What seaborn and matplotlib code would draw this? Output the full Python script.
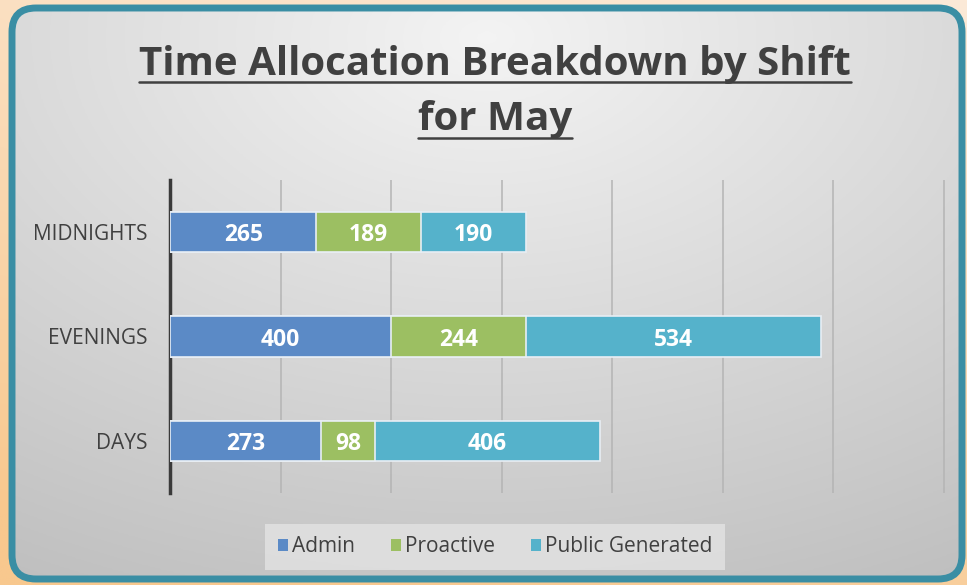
import numpy as np
import pandas as pd
import matplotlib.pyplot as plt
import seaborn as sns
from matplotlib.patches import FancyBboxPatch
from matplotlib.lines import Line2D

# data
shifts = ['MIDNIGHTS', 'EVENINGS', 'DAYS']
admin = [265, 400, 273]
proactive = [189, 244, 98]
public_generated = [190, 534, 406]
series = ['Admin', 'Proactive', 'Public Generated']
colors = ['#5b8ac6', '#9cbf62', '#55b2cb']

df = pd.DataFrame({'shift': shifts, 'Admin': admin, 'Proactive': proactive,
                   'Public Generated': public_generated})
df['c1'] = df['Admin']
df['c2'] = df['c1'] + df['Proactive']
df['c3'] = df['c2'] + df['Public Generated']

sns.set_style('white')
plt.rcParams['font.family'] = ['Open Sans', 'DejaVu Sans']

fig = plt.figure(figsize=(9.67, 5.85), dpi=100)

# background: peach outside, gray gradient inside rounded frame
bg = fig.add_axes([0, 0, 1, 1])
bg.set_xlim(0, 967)
bg.set_ylim(585, 0)
bg.axis('off')
yy, xx = np.mgrid[0:1:200j, 0:1:300j]
peach = np.zeros((200, 300, 3))
top, bot = np.array([252, 234, 216]) / 255, np.array([248, 200, 142]) / 255
t = np.clip(yy * 0.8 + (1 - xx) * 0.3, 0, 1)[..., None]
peach[:] = top * (1 - t) + bot * t
bg.imshow(peach, extent=[0, 967, 585, 0], aspect='auto', zorder=0)

frame = FancyBboxPatch((12, 8), 950, 571, boxstyle='round,pad=0,rounding_size=24',
                       facecolor='none', edgecolor='#3a8ea4', linewidth=5, zorder=3)
bg.add_patch(frame)
d = np.sqrt((xx - 0.5) ** 2 * 1.0 + (yy - 0.05) ** 2 * 0.9)
g = np.clip(0.955 - 0.2 * d, 0, 1)
gray = np.dstack([g, g, g])
im = bg.imshow(gray, extent=[12, 962, 579, 8], aspect='auto', zorder=1)
im.set_clip_path(frame)

# bars
ax = fig.add_axes([170 / 967, 1 - 493 / 585, 775 / 967, 313 / 585])
ax.patch.set_alpha(0)
for col, color in zip(['c3', 'c2', 'c1'], colors[::-1]):
    sns.barplot(data=df, y='shift', x=col, orient='h', color=color, width=0.385,
                edgecolor='#e8eef4', linewidth=1.2, saturation=1, ax=ax, zorder=3)

for i, row in df.iterrows():
    left = 0
    for s in series:
        v = row[s]
        ax.text(left + v / 2, i, str(v), ha='center', va='center_baseline', color='white',
                fontsize=16.5, fontweight='bold', zorder=5)
        left += v

ax.set_xlim(0, 1402)
ax.set_ylim(2.5, -0.5)
ax.set_xticks(range(200, 1401, 200))
ax.xaxis.grid(True, color='#b4b4b4', linewidth=1.1)
ax.set_axisbelow(True)
ax.tick_params(axis='x', labelbottom=False, length=0)
ax.tick_params(axis='y', length=0, pad=16, labelsize=15, labelcolor='#404040')
ax.set_xlabel('')
ax.set_ylabel('')
for sp in ['top', 'right', 'bottom']:
    ax.spines[sp].set_visible(False)
ax.spines['left'].set_color('#3a3a3a')
ax.spines['left'].set_linewidth(2.5)

# legend
handles = [plt.Rectangle((0, 0), 1, 1, facecolor=c, edgecolor='none') for c in colors]
leg = fig.legend(handles, series, loc='center', bbox_to_anchor=(495 / 967, 1 - 547 / 585),
                 ncol=3, frameon=True, fontsize=15, handlelength=0.5, handleheight=0.5,
                 handletextpad=0.2, columnspacing=1.7, borderpad=0.6, fancybox=False)
leg.get_frame().set_facecolor('#e3e3e3')
leg.get_frame().set_edgecolor('none')
for txt in leg.get_texts():
    txt.set_color('#404040')

# title with underline
t1 = fig.text(495 / 967, 1 - 64 / 585, 'Time Allocation Breakdown by Shift', ha='center',
              va='center', fontsize=29, fontweight='bold', color='#404040')
t2 = fig.text(495 / 967, 1 - 120 / 585, 'for May', ha='center', va='center',
              fontsize=29, fontweight='bold', color='#404040')
fig.canvas.draw()
inv = fig.transFigure.inverted()
for t in (t1, t2):
    bb = t.get_window_extent()
    (x0, y0), (x1, _) = inv.transform([[bb.x0, bb.y0], [bb.x1, bb.y1]])
    fig.add_artist(Line2D([x0, x1], [y0 + 0.002, y0 + 0.002], color='#404040',
                          linewidth=1.8, transform=fig.transFigure))

fig.savefig('out.png', dpi=100)
